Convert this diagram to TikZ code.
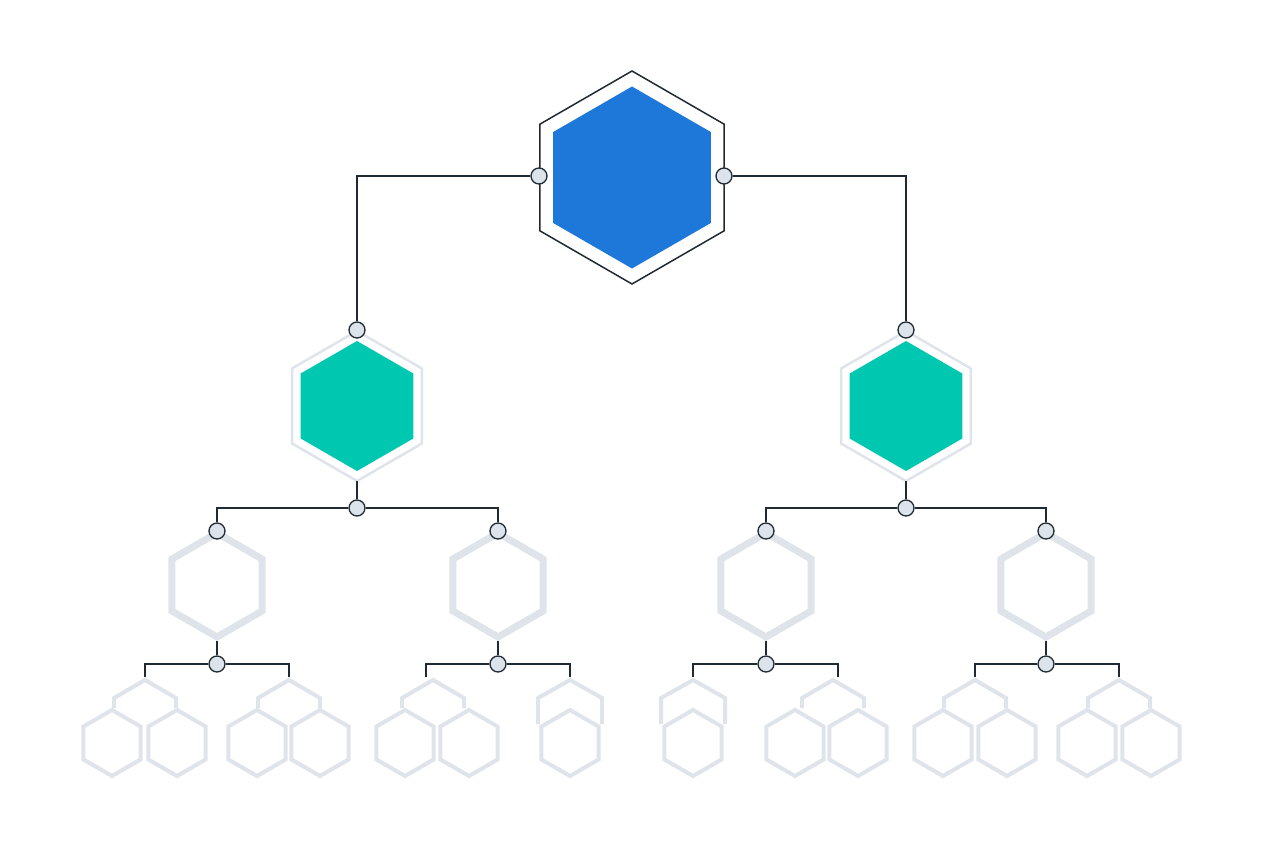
\documentclass[tikz,border=0pt]{standalone}
\begin{document}
\begin{tikzpicture}[x=1pt,y=-1pt,
  ln/.style={draw=dk,line width=1.5pt},
  dot/.style={circle,draw=dk,fill=lg,line width=1.3pt,minimum size=16pt,inner sep=0pt},
  ghost/.style={draw=gh,line width=4pt,line join=miter},
  thick ghost/.style={draw=gh,line width=7pt}]
\definecolor{dk}{HTML}{1F2A33}
\definecolor{lg}{HTML}{DDE3EA}
\definecolor{gh}{HTML}{DFE4EA}
\definecolor{bl}{HTML}{1E78DA}
\definecolor{tl}{HTML}{00C8B0}
\useasboundingbox (0,0) rectangle (1264,848);
\newcommand{\hexpath}[3]{(#1,#2-#3) -- ++(30:#3) -- ++(90:#3) -- ++(150:#3) -- ++(210:#3) -- ++(270:#3) -- cycle}
% top
\draw[ln] \hexpath{632}{177.5}{106.5};
\fill[bl] \hexpath{632}{177.5}{91};
% mid
\foreach \c in {357,906}{
  \draw[draw=gh,line width=2.5pt] \hexpath{\c}{406}{75};
  \fill[tl] \hexpath{\c}{406}{65};
}
% level 3
\foreach \c in {217,498,766,1046}
  \draw[thick ghost] \hexpath{\c}{585}{52};
% bottom
\newcommand{\roof}[3]{\draw[ghost] (#1-#2,#3) -- (#1-#2,698) -- (#1,680) -- (#1+#2,698) -- (#1+#2,#3);}
\newcommand{\hx}[1]{\draw[ghost] \hexpath{#1}{743}{33};}
\foreach \a in {145,289,433,833,975,1119}{\roof{\a}{31}{708}}
\roof{570}{32}{724}\roof{693}{32}{724}
\foreach \h in {112,177,257,320,405,469,570,693,795,858,943,1007,1087,1151}{\hx{\h}}
% nodes
\node[dot] (tl) at (539,176) {};
\node[dot] (tr) at (724,176) {};
\node[dot] (ml) at (357,330) {};
\node[dot] (mr) at (906,330) {};
\node[dot] (bl1) at (357,508) {};
\node[dot] (br1) at (906,508) {};
\foreach \n/\c in {a/217,b/498,c/766,d/1046}{
  \node[dot] (\n t) at (\c,531) {};
  \node[dot] (\n b) at (\c,664) {};
}
\coordinate (hb1) at (357,481);
\coordinate (hb2) at (906,481);
\draw[ln] (tl) -| (ml);
\draw[ln] (tr) -| (mr);
\draw[ln] (hb1) -- (bl1); \draw[ln] (hb2) -- (br1);
\draw[ln] (bl1) -| (at); \draw[ln] (bl1) -| (bt);
\draw[ln] (br1) -| (ct); \draw[ln] (br1) -| (dt);
\foreach \n/\c/\l/\r in {a/217/145/289,b/498/426/570,c/766/693/838,d/1046/975/1119}{
  \coordinate (\n1) at (\c,641); \draw[ln] (\n1) -- (\n b);
  \coordinate (\n l) at (\l,677); \coordinate (\n r) at (\r,677);
  \draw[ln] (\n b) -| (\n l); \draw[ln] (\n b) -| (\n r);
}
\end{tikzpicture}
\end{document}
